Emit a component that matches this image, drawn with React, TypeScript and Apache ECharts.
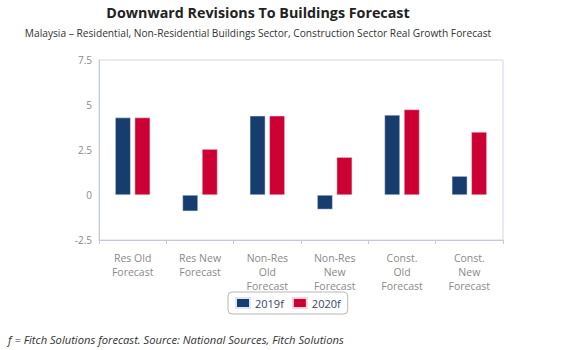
import React, { useEffect, useRef } from "react";
import * as echarts from "echarts";

const categories = [
  "Res Old\nForecast",
  "Res New\nForecast",
  "Non-Res\nOld\nForecast",
  "Non-Res\nNew\nForecast",
  "Const.\nOld\nForecast",
  "Const.\nNew\nForecast",
];
const series2019 = [4.3, -0.9, 4.4, -0.8, 4.45, 1.05];
const series2020 = [4.3, 2.55, 4.4, 2.1, 4.75, 3.5];
const seriesNames = ["2019f", "2020f"];
const titleText = "Downward Revisions To Buildings Forecast";
const subtitleText =
  "Malaysia \u2013 Residential, Non-Residential Buildings Sector, Construction Sector Real Growth Forecast";
const footnote = "f = Fitch Solutions forecast. Source: National Sources, Fitch Solutions";

const BLUE = "#173c6e";
const RED = "#cc0033";
const FONT = "'Open Sans', 'DejaVu Sans', sans-serif";

export default function App() {
  const ref = useRef<HTMLDivElement>(null);
  useEffect(() => {
    if (!ref.current) return;
    const chart = echarts.init(ref.current, undefined, { renderer: "svg" });
    chart.setOption({
      animation: false,
      textStyle: { fontFamily: FONT },
      graphic: [
        {
          type: "text",
          x: 258,
          y: 12,
          style: {
            text: titleText,
            align: "center",
            verticalAlign: "middle",
            fontSize: 14.3,
            fontWeight: "bold",
            fill: "#222",
            fontFamily: FONT,
          },
        },
        {
          type: "text",
          x: 258,
          y: 33,
          style: {
            text: subtitleText,
            align: "center",
            verticalAlign: "middle",
            fontSize: 10.2,
            fill: "#333",
            fontFamily: FONT,
          },
        },
        {
          type: "text",
          x: 8,
          y: 339,
          style: {
            text: footnote,
            align: "left",
            verticalAlign: "middle",
            fontSize: 11.2,
            fontStyle: "italic",
            fill: "#333",
            fontFamily: FONT,
          },
        },
      ],
      legend: {
        data: seriesNames,
        left: 228,
        top: 292,
        itemWidth: 14,
        itemHeight: 10,
        itemGap: 8,
        borderColor: "#b8b8b8",
        borderWidth: 1,
        borderRadius: 4,
        padding: [5, 7],
        icon: "rect",
        textStyle: { color: "#3a4766", fontSize: 11, fontFamily: FONT },
      },
      grid: {
        left: 99,
        right: 79,
        top: 60,
        bottom: 110,
        show: true,
        borderColor: "#d3d8e6",
        borderWidth: 1,
      },
      xAxis: {
        type: "category",
        data: categories,
        axisLine: { onZero: false, lineStyle: { color: "#c4cadc" } },
        axisTick: { show: true, length: 4, lineStyle: { color: "#c4cadc" } },
        axisLabel: { color: "#8a8a8a", fontSize: 10.5, lineHeight: 14, margin: 11, interval: 0, fontFamily: FONT },
      },
      yAxis: {
        type: "value",
        min: -2.5,
        max: 7.5,
        interval: 2.5,
        axisLine: { show: true, lineStyle: { color: "#c4cadc" } },
        axisTick: { show: false },
        splitLine: { show: false },
        axisLabel: { color: "#8a8a8a", fontSize: 10, margin: 7, fontFamily: FONT },
      },
      series: [
        {
          name: seriesNames[0],
          type: "bar",
          data: series2019,
          barWidth: 15.5,
          barGap: "26%",
          itemStyle: { color: BLUE, borderColor: "#dfe6f0", borderWidth: 0.5 },
        },
        {
          name: seriesNames[1],
          type: "bar",
          data: series2020,
          barWidth: 15.5,
          itemStyle: { color: RED, borderColor: "#f5d5dd", borderWidth: 0.5 },
        },
      ],
    });
    return () => chart.dispose();
  }, []);
  return (
    <div
      ref={ref}
      style={{ width: 582, height: 350, position: "absolute", left: 0, top: 0 }}
    />
  );
}
